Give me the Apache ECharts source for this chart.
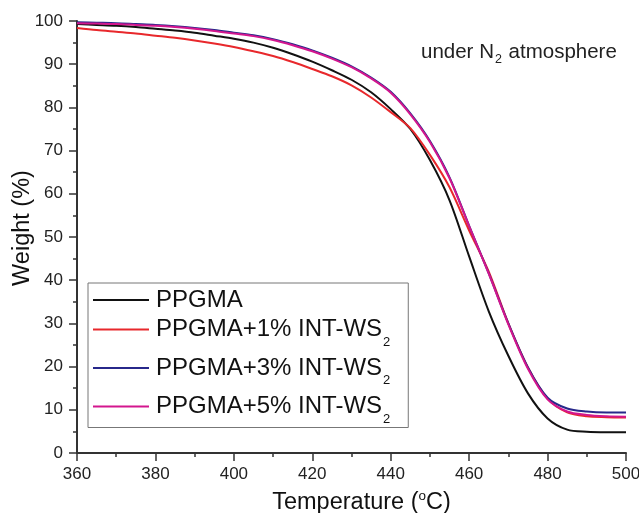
<!DOCTYPE html>
<html>
<head>
<meta charset="utf-8">
<script src="https://cdn.jsdelivr.net/npm/echarts@6/dist/echarts.min.js"></script>
<style>
html,body{margin:0;padding:0;background:#fff;}
#chart{width:639px;height:513px;}
</style>
</head>
<body>
<div id="chart"></div>
<script>
// Temperature (°C)
var temperatures = [360,365,370,375,380,385,390,395,400,405,410,415,420,425,430,435,440,445,450,455,460,465,470,475,480,485,490,495,500];
// Weight (%) per sample
var ppgma   = [99.3,99.1,98.9,98.6,98.2,97.8,97.3,96.6,95.9,95.0,93.8,92.3,90.6,88.6,86.4,83.5,79.6,75.0,67.8,58.5,45.5,32.8,22.5,13.8,8.0,5.4,4.9,4.8,4.8];
var ppgma1  = [98.4,97.9,97.5,97.1,96.6,96.1,95.5,94.8,94.0,93.0,91.9,90.5,88.9,87.2,85.1,82.3,78.9,75.2,69.0,61.5,51.5,42.0,30.0,19.8,12.6,9.4,8.5,8.3,8.2];
var ppgma3  = [99.7,99.6,99.5,99.3,99.1,98.8,98.4,97.9,97.3,96.7,95.8,94.6,93.2,91.5,89.5,86.9,83.6,78.6,72.2,63.8,52.6,41.6,30.0,19.8,12.8,10.3,9.6,9.4,9.4];
var ppgma5  = [99.5,99.4,99.3,99.1,98.9,98.6,98.2,97.7,97.1,96.5,95.6,94.4,93.0,91.3,89.3,86.7,83.4,78.4,72.0,63.6,52.5,41.5,29.8,19.5,12.4,9.6,8.8,8.5,8.4];
var seriesNames = ['PPGMA','PPGMA+1% INT-WS2','PPGMA+3% INT-WS2','PPGMA+5% INT-WS2'];
var seriesColors = ['#111111','#e8282c','#27288a','#d3168e'];
var xTicks = {min:360, max:500, interval:20};
var yTicks = {min:0, max:100, interval:10};

function pairs(ys){ return temperatures.map(function(t,i){ return [t, ys[i]]; }); }
var allData = [ppgma, ppgma1, ppgma3, ppgma5];

var chart = echarts.init(document.getElementById('chart'), null, {renderer:'canvas'});
var FONT = '"Liberation Sans", Arial, sans-serif';

var series = seriesNames.map(function(n,i){
  return {
    name: n, type: 'line', data: pairs(allData[i]),
    symbol: 'none', smooth: 0.3, z: 2+i,
    lineStyle: {color: seriesColors[i], width: 2},
    itemStyle: {color: seriesColors[i]}
  };
});

var legendRich = {
  m1: {fontSize: 24, fontFamily: FONT, color: '#111', padding: [0,0,0,2]},
  m: {fontSize: 24, fontFamily: FONT, color: '#111', lineHeight: 40, padding: [0,0,0,2]},
  s: {fontSize: 13, fontFamily: FONT, color: '#111', lineHeight: 11, padding: [27,0,2,1]}
};

chart.setOption({
  animation: false,
  backgroundColor: '#fff',
  grid: {left: 77, right: 13, top: 21, bottom: 60, containLabel: false, outerBoundsMode: 'none'},
  xAxis: {
    type: 'value', min: xTicks.min, max: xTicks.max, interval: xTicks.interval,
    name: 'Temperature ({sup|o}C)', nameLocation: 'middle', nameGap: 36, nameMoveOverlap: false,
    nameTextStyle: {fontSize: 23.5, fontFamily: FONT, color: '#111', padding: [0,0,0,20],
      rich: {sup: {fontSize: 13.5, fontFamily: FONT, color: '#111', padding: [0,0,13,0]}}},
    axisLine: {show: true, onZero: false, lineStyle: {color: '#333', width: 2}},
    axisTick: {show: true, length: 8, lineStyle: {color: '#333', width: 1.5}},
    minorTick: {show: true, splitNumber: 2, length: 4, lineStyle: {color: '#333', width: 1.5}},
    axisLabel: {fontSize: 17, fontFamily: FONT, color: '#222', margin: 13},
    splitLine: {show: false}
  },
  yAxis: {
    type: 'value', min: yTicks.min, max: yTicks.max, interval: yTicks.interval,
    name: 'Weight (%)', nameLocation: 'middle', nameGap: 42, nameMoveOverlap: false,
    nameTextStyle: {fontSize: 23.5, fontFamily: FONT, color: '#111', padding: [0,0,0,18]},
    axisLine: {show: true, onZero: false, lineStyle: {color: '#333', width: 2}},
    axisTick: {show: true, length: 8, lineStyle: {color: '#333', width: 1.5}},
    minorTick: {show: true, splitNumber: 2, length: 4, lineStyle: {color: '#333', width: 1.5}},
    axisLabel: {fontSize: 17, fontFamily: FONT, color: '#222', margin: 14},
    splitLine: {show: false}
  },
  legend: {
    orient: 'vertical', left: 88, top: 283,
    itemWidth: 56, itemHeight: 2, itemGap: -3.5,
    icon: 'rect',
    padding: [5, 18, 0, 5],
    borderColor: '#777', borderWidth: 1, backgroundColor: '#fff',
    data: seriesNames,
    formatter: function(name){
      if (name.slice(-1) === '2') return '{m|' + name.slice(0,-1) + '}{s|2}';
      return '{m1|' + name + '}';
    },
    textStyle: {fontSize: 24, fontFamily: FONT, color: '#111', rich: legendRich}
  },
  graphic: [{
    type: 'text', left: 421, top: 39, z: 10,
    style: {
      text: '{a|under N}{b|2}{a| atmosphere}',
      rich: {
        a: {fontSize: 20.5, fontFamily: FONT, fill: '#222', lineHeight: 26},
        b: {fontSize: 12.5, fontFamily: FONT, fill: '#222', lineHeight: 12, padding: [14,1,0,1]}
      }
    }
  }],
  series: series
});
</script>
</body>
</html>
